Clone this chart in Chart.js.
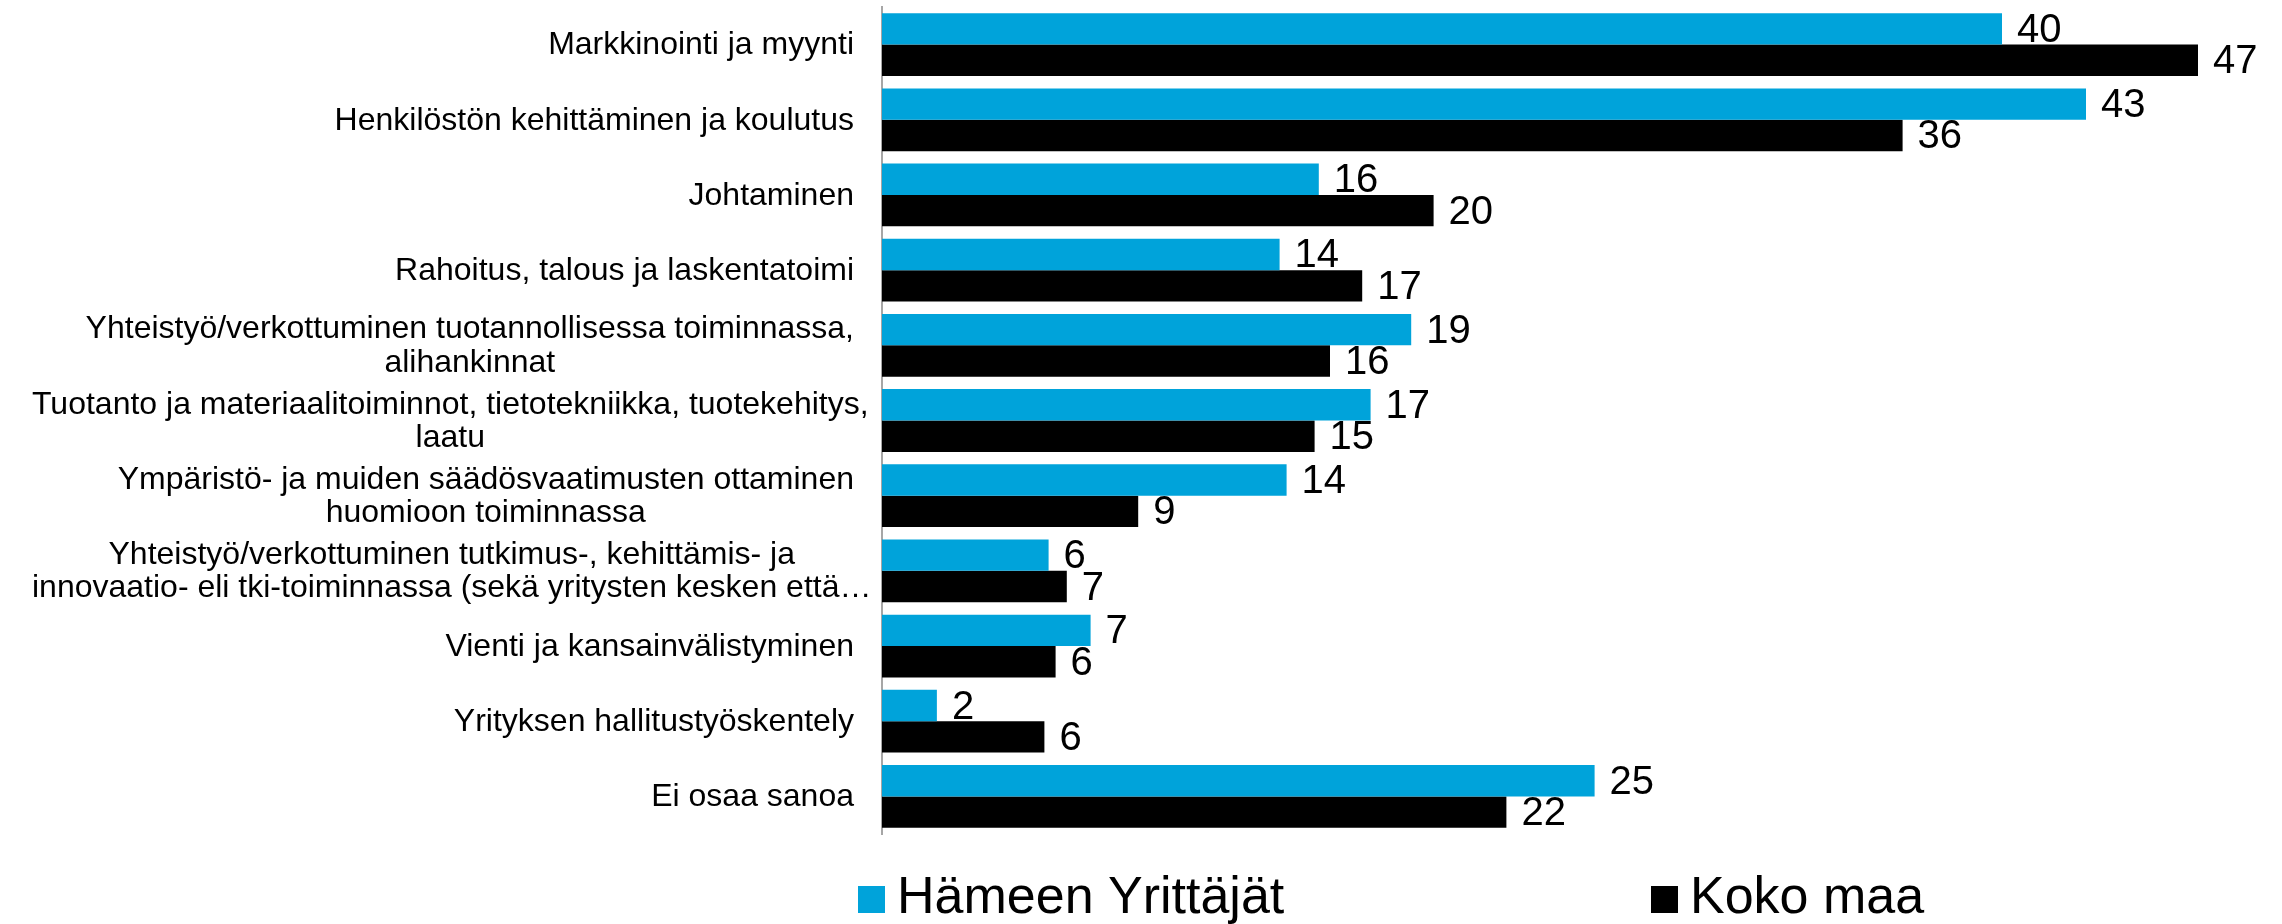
<!DOCTYPE html>
<html>
<head>
<meta charset="utf-8">
<script src="https://cdn.jsdelivr.net/npm/chart.js@4/dist/chart.umd.min.js"></script>
<style>
  html, body { margin: 0; padding: 0; background: #fff; }
  canvas { display: block; }
</style>
</head>
<body>
<canvas id="chart" width="2282" height="924"></canvas>
<script>
// Category labels (multi-line ones as arrays)
const categories = [
  ['Markkinointi ja myynti'],
  ['Henkilöstön kehittäminen ja koulutus'],
  ['Johtaminen'],
  ['Rahoitus, talous ja laskentatoimi'],
  ['Yhteistyö/verkottuminen tuotannollisessa toiminnassa,', 'alihankinnat'],
  ['Tuotanto ja materiaalitoiminnot, tietotekniikka, tuotekehitys,', 'laatu'],
  ['Ympäristö- ja muiden säädösvaatimusten ottaminen', 'huomioon toiminnassa'],
  ['Yhteistyö/verkottuminen tutkimus-, kehittämis- ja', 'innovaatio- eli tki-toiminnassa (sekä yritysten kesken että…'],
  ['Vienti ja kansainvälistyminen'],
  ['Yrityksen hallitustyöskentely'],
  ['Ei osaa sanoa']
];
// bar lengths (%)
const hameenValues = [40.0, 43.0, 15.6, 14.2, 18.9, 17.45, 14.45, 5.95, 7.45, 1.96, 25.45];
const kokoMaaValues = [47.0, 36.45, 19.7, 17.15, 16.0, 15.45, 9.15, 6.6, 6.2, 5.8, 22.3];
// value labels as printed next to the bars
const hameenLabels = ['40', '43', '16', '14', '19', '17', '14', '6', '7', '2', '25'];
const kokoMaaLabels = ['47', '36', '20', '17', '16', '15', '9', '7', '6', '6', '22'];
const seriesNames = ['Hämeen Yrittäjät', 'Koko maa'];
const seriesColors = ['#00a3da', '#000000'];

const FONT = '"Liberation Sans", Arial, sans-serif';

// Draw category labels: block right-aligned to the axis, lines centred inside the block
const categoryLabels = {
  id: 'categoryLabels',
  afterDraw(chart) {
    const ctx = chart.ctx;
    const yScale = chart.scales.y;
    const right = yScale.right - 28;
    const lh = 33.5;
    ctx.save();
    ctx.font = '32px ' + FONT;
    ctx.fillStyle = '#000';
    ctx.textAlign = 'center';
    ctx.textBaseline = 'middle';
    categories.forEach((lines, i) => {
      const y = yScale.getPixelForValue(i);
      const maxW = Math.max(...lines.map(l => ctx.measureText(l).width));
      const cx = Math.max(right - maxW / 2, 32 + maxW / 2);
      const y0 = y - (lines.length - 1) * lh / 2;
      lines.forEach((l, j) => ctx.fillText(l, cx, y0 + j * lh + 1));
    });
    ctx.restore();
  }
};

// Value labels at the end of each bar
const valueLabels = {
  id: 'valueLabels',
  afterDatasetsDraw(chart) {
    const ctx = chart.ctx;
    ctx.save();
    ctx.font = '40px ' + FONT;
    ctx.fillStyle = '#000';
    ctx.textAlign = 'left';
    ctx.textBaseline = 'middle';
    chart.data.datasets.forEach((ds, di) => {
      chart.getDatasetMeta(di).data.forEach((bar, i) => {
        ctx.fillText(ds.valueLabels[i], bar.x + 15, bar.y + 2);
      });
    });
    ctx.restore();
  }
};

// Legend below the plot
const bottomLegend = {
  id: 'bottomLegend',
  afterDraw(chart) {
    const ctx = chart.ctx;
    const xs = [858, 1651];
    ctx.save();
    ctx.font = '52px ' + FONT;
    ctx.textBaseline = 'alphabetic';
    chart.data.datasets.forEach((ds, i) => {
      ctx.fillStyle = ds.backgroundColor;
      ctx.fillRect(xs[i], 886, 27, 27);
      ctx.fillStyle = '#000';
      ctx.fillText(ds.label, xs[i] + 39, 913);
    });
    ctx.restore();
  }
};

new Chart(document.getElementById('chart'), {
  type: 'bar',
  data: {
    labels: categories.map(c => c.join(' ')),
    datasets: [
      { label: seriesNames[0], data: hameenValues, valueLabels: hameenLabels, backgroundColor: seriesColors[0], borderWidth: 0 },
      { label: seriesNames[1], data: kokoMaaValues, valueLabels: kokoMaaLabels, backgroundColor: seriesColors[1], borderWidth: 0 }
    ]
  },
  options: {
    indexAxis: 'y',
    responsive: false,
    devicePixelRatio: 1,
    animation: false,
    categoryPercentage: 0.835,
    barPercentage: 1,
    layout: { padding: { top: 7, bottom: 90, left: 0, right: 0 } },
    plugins: {
      legend: { display: false },
      tooltip: { enabled: false }
    },
    scales: {
      x: { display: false, min: 0, max: 50 },
      y: {
        grid: { display: false },
        border: { display: true, color: '#a6a6a6', width: 2 },
        ticks: { display: false },
        afterFit: (scale) => { scale.width = 882; }
      }
    }
  },
  plugins: [categoryLabels, valueLabels, bottomLegend]
});
</script>
</body>
</html>
